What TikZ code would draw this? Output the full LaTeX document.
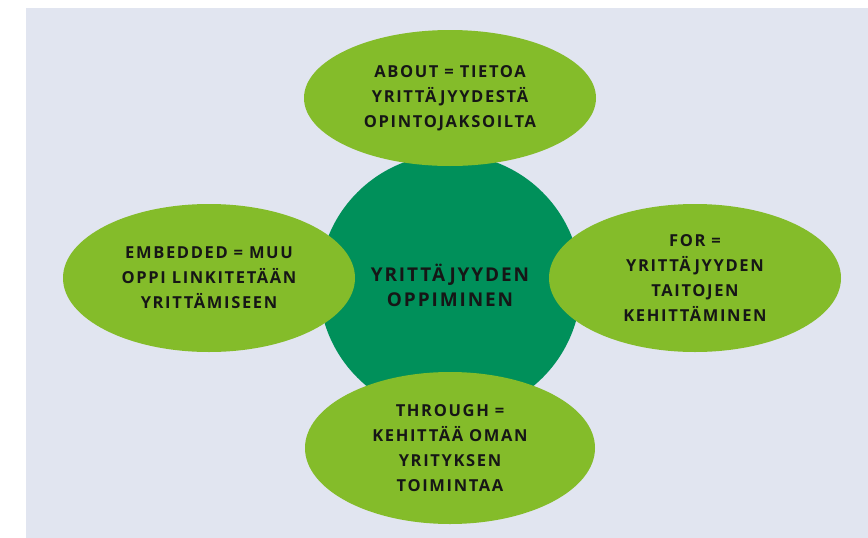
\documentclass[tikz,border=0pt]{standalone}
\usepackage{fontspec}
\setmainfont{Open Sans}[LetterSpace=10]
\usetikzlibrary{shapes.geometric}
\definecolor{bgblue}{HTML}{E1E5F0}
\definecolor{leafgreen}{HTML}{84BC2A}
\definecolor{deepgreen}{HTML}{00905A}
\definecolor{inkblack}{HTML}{161616}
\tikzset{
  petal/.style={ellipse, fill=leafgreen, minimum width=292pt, minimum height=148pt,
    inner sep=0pt, align=center, text=inkblack, font=\fontsize{16.5}{25}\selectfont\bfseries},
  hub/.style={circle, fill=deepgreen, minimum size=262pt, inner sep=0pt, align=center,
    text=inkblack, font=\fontsize{19}{25}\selectfont\bfseries}
}
\begin{document}
\begin{tikzpicture}[x=1pt,y=-1pt]
  \useasboundingbox (0,0) rectangle (868,538);
  \fill[bgblue] (26,8) rectangle (868,538);

  \node[hub] (center) at (450,285) {YRITTÄJYYDEN\\OPPIMINEN};

  \node[petal, minimum height=136pt] (about) at (450,98) {ABOUT = TIETOA\\YRITTÄJYYDESTÄ\\OPINTOJAKSOILTA};
  \node[petal] (embedded) at (209,278) {EMBEDDED = MUU\\OPPI LINKITETÄÄN\\YRITTÄMISEEN};
  \node[petal] (for) at (695,278) {FOR =\\YRITTÄJYYDEN\\TAITOJEN\\KEHITTÄMINEN};
  \node[petal, minimum width=290pt, minimum height=152pt] (through) at (450,448) {THROUGH =\\KEHITTÄÄ OMAN\\YRITYKSEN\\TOIMINTAA};
\end{tikzpicture}
\end{document}
